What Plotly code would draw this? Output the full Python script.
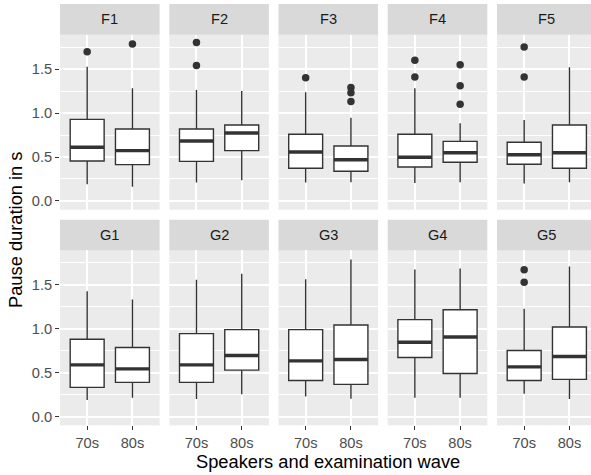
import plotly.graph_objects as go

W, H = 591, 475

groups = ["F1", "F2", "F3", "F4", "F5", "G1", "G2", "G3", "G4", "G5"]
waves = ["70s", "80s"]
y_tickvals = [0.0, 0.5, 1.0, 1.5]
y_ticktext = ["0.0", "0.5", "1.0", "1.5"]

# 70s box statistics per group
lower_70 = [0.19, 0.21, 0.21, 0.205, 0.20, 0.19, 0.20, 0.23, 0.215, 0.26]
q1_70 = [0.455, 0.45, 0.372, 0.386, 0.417, 0.333, 0.39, 0.412, 0.673, 0.412]
median_70 = [0.61, 0.682, 0.557, 0.497, 0.526, 0.589, 0.589, 0.634, 0.846, 0.566]
q3_70 = [0.928, 0.818, 0.758, 0.758, 0.667, 0.88, 0.944, 0.99, 1.103, 0.752]
upper_70 = [1.526, 1.261, 1.235, 1.28, 0.92, 1.427, 1.556, 1.563, 1.673, 1.228]
outliers_70 = [[1.697], [1.80, 1.54], [1.40], [1.60, 1.41], [1.75, 1.41],
               [], [], [], [], [1.669, 1.529]]

# 80s box statistics per group
lower_80 = [0.163, 0.235, 0.2125, 0.2125, 0.2125, 0.215, 0.254, 0.204, 0.215, 0.20]
q1_80 = [0.413, 0.572, 0.3375, 0.44, 0.372, 0.39, 0.529, 0.367, 0.491, 0.424]
median_80 = [0.572, 0.773, 0.469, 0.549, 0.549, 0.544, 0.695, 0.65, 0.906, 0.684]
q3_80 = [0.818, 0.864, 0.625, 0.678, 0.864, 0.786, 0.99, 1.042, 1.216, 1.019]
upper_80 = [1.28, 1.25, 0.947, 0.883, 1.52, 1.333, 1.624, 1.786, 1.684, 1.707]
outliers_80 = [[1.784], [], [1.29, 1.23, 1.13], [1.549, 1.31, 1.10], [],
               [], [], [], [], []]

# ---- geometry (pixels) ----
col_x0 = [60, 169.3, 278.5, 387.7, 497]
panel_w = 99.6
row_panel = [(34.7, 209.7), (250.4, 425.4)]
strip_h = 30.7
x_range = [0.4, 2.6]
y_range = [-0.099, 1.89]
box_w = 0.75

INK = "#333333"
FONT = "Liberation Sans, Arial, sans-serif"

fig = go.Figure()
layout = dict(
    width=W, height=H, margin=dict(l=0, r=0, t=0, b=0),
    paper_bgcolor="white", plot_bgcolor="#EBEBEB",
    showlegend=False, boxmode="overlay",
    font=dict(family=FONT),
)
shapes = []
annotations = []

for i, g in enumerate(groups):
    r, c = divmod(i, 5)
    k = "" if i == 0 else str(i + 1)
    x0 = col_x0[c]
    x1_full = x0 + panel_w
    x1 = min(x1_full, W)
    xr_end = x_range[0] + (x1 - x0) / panel_w * (x_range[1] - x_range[0])
    py0, py1 = row_panel[r]

    layout["xaxis" + k] = dict(
        domain=[x0 / W, x1 / W], range=[x_range[0], xr_end],
        anchor="y" + k, tickvals=[1, 2], ticktext=waves,
        showgrid=True, gridcolor="white", gridwidth=1.8,
        zeroline=False, showline=False,
        ticks="outside" if r == 1 else "", ticklen=4, tickwidth=1, tickcolor=INK,
        showticklabels=(r == 1),
        tickfont=dict(size=14.6, color="#4D4D4D", family=FONT),
        fixedrange=True,
    )
    layout["yaxis" + k] = dict(
        domain=[1 - py1 / H, 1 - py0 / H], range=y_range,
        anchor="x" + k, tickvals=y_tickvals, ticktext=y_ticktext,
        showgrid=True, gridcolor="white", gridwidth=1.8,
        zeroline=False, showline=False,
        ticks="outside" if c == 0 else "", ticklen=4, tickwidth=1, tickcolor=INK,
        showticklabels=(c == 0),
        tickfont=dict(size=14.6, color="#4D4D4D", family=FONT),
        minor=dict(tickvals=[0.25, 0.75, 1.25, 1.75], showgrid=True,
                   gridcolor="white", gridwidth=0.9, ticks=""),
        fixedrange=True,
    )

    # strip
    shapes.append(dict(type="rect", xref="paper", yref="paper",
                       x0=x0 / W, x1=x1 / W,
                       y0=1 - py0 / H, y1=1 - (py0 - strip_h) / H,
                       fillcolor="#D9D9D9", line=dict(width=0), layer="below"))
    annotations.append(dict(text=g, xref="paper", yref="paper",
                            x=(x0 + x1_full) / 2 / W, y=1 - (py0 - strip_h / 2) / H,
                            xanchor="center", yanchor="middle", showarrow=False,
                            font=dict(size=14.6, color="#1A1A1A", family=FONT)))

    stats = [
        (1, lower_70[i], q1_70[i], median_70[i], q3_70[i], upper_70[i], outliers_70[i]),
        (2, lower_80[i], q1_80[i], median_80[i], q3_80[i], upper_80[i], outliers_80[i]),
    ]
    for xc, lo, q1, med, q3, hi, outs in stats:
        fig.add_trace(go.Box(
            x=[xc], q1=[q1], median=[med], q3=[q3],
            lowerfence=[lo], upperfence=[hi],
            width=box_w, whiskerwidth=0, fillcolor="white",
            line=dict(color=INK, width=1.4), boxpoints=False,
            hoverinfo="skip", xaxis="x" + k, yaxis="y" + k,
        ))
        fig.add_trace(go.Scatter(
            x=[xc - box_w / 2, xc + box_w / 2], y=[med, med], mode="lines",
            line=dict(color=INK, width=3.4), hoverinfo="skip",
            xaxis="x" + k, yaxis="y" + k,
        ))
        if outs:
            fig.add_trace(go.Scatter(
                x=[xc] * len(outs), y=outs, mode="markers",
                marker=dict(color=INK, size=7.5, line=dict(width=0)),
                hoverinfo="skip", xaxis="x" + k, yaxis="y" + k,
            ))

annotations.append(dict(text="Pause duration in s", xref="paper", yref="paper",
                        x=16 / W, y=1 - 230 / H, textangle=-90,
                        xanchor="center", yanchor="middle", showarrow=False,
                        font=dict(size=18.3, color="black", family=FONT)))
annotations.append(dict(text="Speakers and examination wave", xref="paper", yref="paper",
                        x=328 / W, y=1 - 461 / H,
                        xanchor="center", yanchor="middle", showarrow=False,
                        font=dict(size=18.3, color="black", family=FONT)))

layout["shapes"] = shapes
layout["annotations"] = annotations
fig.update_layout(**layout)

fig.write_html(
    "out.html",
    config={"displayModeBar": False},
    post_script="document.body.style.margin='0';document.body.style.overflow='hidden';",
)
